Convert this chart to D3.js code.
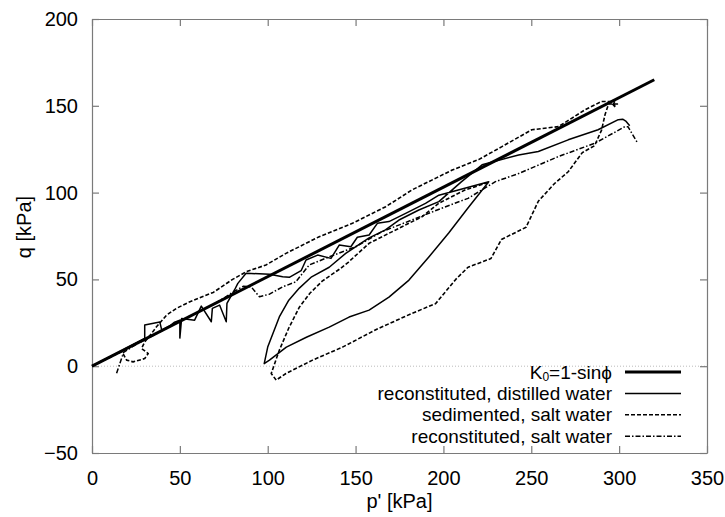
<!DOCTYPE html>
<html>
<head>
<meta charset="utf-8">
<script src="https://cdn.jsdelivr.net/npm/d3@7"></script>
<style>
  body { margin: 0; background: #fff; }
  text { font-family: "Liberation Sans", Arial, sans-serif; }
</style>
</head>
<body>
<div id="chart"></div>
<script>
// Data (p' and q in kPa)
var xTicks = [0, 50, 100, 150, 200, 250, 300, 350];
var yTicks = [-50, 0, 50, 100, 150, 200];

var k0Line = [[0, 0], [320, 165]];

var distilledWater = [
  [0, 0], [16, 8.5], [30, 16], [30, 23.7], [38.6, 25.4], [39.7, 20.8], [44, 23], [47, 25.4],
  [50, 26.5], [50, 16.2], [51, 27.5], [58.4, 26.5], [62.2, 34.6], [67.9, 25.6], [68.5, 33.3],
  [72.6, 35.2], [76.4, 25.6], [76.8, 36.2], [81.1, 43.9], [83, 47.7], [87.7, 53.5], [101, 53],
  [108.5, 51.5], [112.3, 51.2], [119, 55], [121.8, 61.2], [128.4, 64], [136, 62.1], [140.7, 69.8],
  [147.3, 68.8], [151, 74.3], [157.7, 75.6], [162.4, 82.3], [169, 83.3], [178.5, 88], [189.8, 93.8],
  [197.4, 98.5], [225.8, 106.3],
  [214.4, 91.7], [203, 76.7], [191.7, 62.9], [180.4, 49.6], [169, 39.8], [157.7, 32.3],
  [146.3, 28.3], [135, 22.5], [122, 16.7], [110.6, 11], [101, 3.5], [98, 1.5],
  [100, 11], [106.6, 28.4], [112, 38], [118, 45], [125, 51.5], [135, 57], [144.4, 65],
  [157.7, 73.9], [167, 78.5], [174.7, 84.2], [186, 90], [197.4, 94.8], [210, 106], [222, 116],
  [242.8, 121.7], [254, 123.7], [271, 130.4], [288, 136.2], [299.5, 142], [302, 142.3],
  [304, 141], [306, 138.5]
];

var sedimentedSalt = [
  [0, 0], [17, 8.5], [19.7, 3.5], [23.4, 2.5], [30, 4.4], [32, 7.3], [28.2, 10.2], [30, 14],
  [34, 19], [36.7, 22.7], [42.4, 29.4], [48, 33.3], [55, 36.8], [69, 42.5], [80, 50], [88, 54.5],
  [99, 58.3], [110.4, 65], [129.3, 74.6], [148.2, 82.3], [167.2, 91.9], [182.2, 101.6],
  [196, 108.5], [205, 113], [220, 119], [233.3, 126.5], [250.3, 136.2], [265.5, 138],
  [280.6, 147.7], [290, 152.5], [295, 152.5], [298, 149], [296, 153], [299, 151], [294, 151],
  [292, 145], [290, 136], [286, 127], [279, 123], [271, 112], [263, 105], [254, 95], [247, 80],
  [233, 73], [227, 62], [214, 57], [207, 50], [195.5, 36], [182, 30.4], [161.5, 21],
  [142.6, 11], [125.5, 3.5], [110.4, -4.2], [104.8, -8], [102, -4.2],
  [106.6, 9.2], [112, 22], [118, 34], [124, 42], [131, 49], [141, 56], [146, 60],
  [157.7, 70.8], [172.8, 78.5], [188, 86.2], [197.4, 93.9], [212.5, 101.6], [226, 106]
];

var reconstitutedSalt = [
  [14, -4], [17, 5], [18, 8], [25, 12.5], [40, 20.5], [55, 28.5], [70, 36], [80, 42.5],
  [86, 46], [90.6, 45.7], [95.3, 40], [101, 41.5], [108.5, 45.7], [116, 48.6], [123.6, 58.3],
  [135, 63], [150, 68.8], [165, 77.5], [182, 84.2], [199, 91], [214, 96.7], [229.6, 106.3],
  [242.8, 111], [265.5, 120.8], [286.3, 128.5], [303.3, 138], [305, 138], [310.5, 128.5]
];

var seriesNames = ["K0=1-sin\u03d5", "reconstituted, distilled water", "sedimented, salt water", "reconstituted, salt water"];

// Dimensions
var margin = { top: 19, right: 18, bottom: 64, left: 92 },
  width = 725 - margin.left - margin.right,
  height = 517 - margin.top - margin.bottom;

var svg = d3.select("#chart")
  .append("svg")
  .attr("width", 725)
  .attr("height", 517);

var g = svg.append("g")
  .attr("transform", "translate(" + margin.left + "," + margin.top + ")");

var x = d3.scaleLinear().domain([0, 350]).range([0, width]);
var y = d3.scaleLinear().domain([-50, 200]).range([height, 0]);

var axisColor = "#7a7a7a";

// zero line
g.append("line")
  .attr("x1", x(0)).attr("x2", x(350))
  .attr("y1", y(0)).attr("y2", y(0))
  .attr("stroke", "#aaa")
  .attr("stroke-width", 0.8)
  .attr("stroke-dasharray", "1,2");

// Axes with inward ticks on all four sides
function styleAxis(sel) {
  sel.selectAll("path").attr("stroke", axisColor).attr("stroke-width", 1.2);
  sel.selectAll("line").attr("stroke", axisColor).attr("stroke-width", 1.2);
  sel.selectAll("text").attr("fill", "#000").style("font-size", "20px")
    .style("font-family", "'Liberation Sans', Arial, sans-serif");
}

g.append("g")
  .attr("transform", "translate(0," + height + ")")
  .call(d3.axisBottom(x).tickValues(xTicks).tickSizeInner(-7).tickSizeOuter(0).tickPadding(18))
  .call(styleAxis);

g.append("g")
  .call(d3.axisLeft(y).tickValues(yTicks).tickSizeInner(-7).tickSizeOuter(0).tickPadding(14))
  .call(styleAxis);

g.append("g")
  .call(d3.axisTop(x).tickValues(xTicks).tickSizeInner(-7).tickSizeOuter(0).tickFormat(""))
  .call(styleAxis);

g.append("g")
  .attr("transform", "translate(" + width + ",0)")
  .call(d3.axisRight(y).tickValues(yTicks).tickSizeInner(-7).tickSizeOuter(0).tickFormat(""))
  .call(styleAxis);

// Axis titles
svg.append("text")
  .attr("x", margin.left + width / 2)
  .attr("y", 508)
  .attr("text-anchor", "middle")
  .style("font-size", "20px")
  .text("p' [kPa]");

svg.append("text")
  .attr("transform", "translate(31,227)rotate(-90)")
  .attr("text-anchor", "middle")
  .style("font-size", "20px")
  .text("q [kPa]");

// Curves
var line = d3.line().x(d => x(d[0])).y(d => y(d[1]));

var styles = [
  { data: k0Line, width: 3, dash: null },
  { data: distilledWater, width: 1.5, dash: null },
  { data: sedimentedSalt, width: 1.6, dash: "4,2" },
  { data: reconstitutedSalt, width: 1.5, dash: "5,2,1.5,2" }
];

g.selectAll("path.curve")
  .data(styles.slice(1).concat([styles[0]]))
  .enter()
  .append("path")
  .attr("class", "curve")
  .attr("d", d => line(d.data))
  .attr("fill", "none")
  .attr("stroke", "#000")
  .attr("stroke-width", d => d.width)
  .attr("stroke-linejoin", "round")
  .attr("stroke-dasharray", d => d.dash);

// Legend
var legendX = 612, legendY = 372, rowH = 21.4;
var legend = svg.selectAll("g.legend")
  .data(styles)
  .enter()
  .append("g")
  .attr("class", "legend")
  .attr("transform", (d, i) => "translate(0," + (legendY + i * rowH) + ")");

legend.append("line")
  .attr("x1", legendX + 13).attr("x2", legendX + 69)
  .attr("y1", 0).attr("y2", 0)
  .attr("stroke", "#000")
  .attr("stroke-width", d => d.width)
  .attr("stroke-dasharray", d => d.dash);

legend.each(function (d, i) {
  var t = d3.select(this).append("text")
    .attr("x", legendX)
    .attr("y", 6.5)
    .attr("text-anchor", "end")
    .style("font-size", "19px");
  if (i === 0) {
    t.append("tspan").text("K");
    t.append("tspan").attr("dy", 2.5).style("font-size", "12px").text("0");
    t.append("tspan").attr("dy", -2.5).text("=1-sin\u03d5");
  } else {
    t.text(seriesNames[i]);
  }
});
</script>
</body>
</html>
